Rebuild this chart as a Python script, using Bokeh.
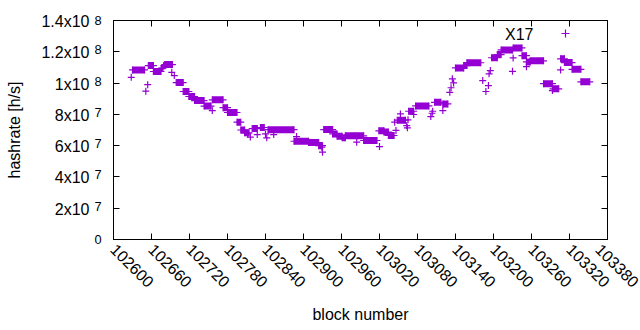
import math
from bokeh.plotting import figure
from bokeh.models import (Range1d, LinearAxis, FixedTicker, Label, Legend,
                          LegendItem, ColumnDataSource, BasicTickFormatter)
from bokeh.embed import file_html
from bokeh.resources import INLINE

# ---------------- data ----------------
# runs of consecutive blocks that share one hashrate estimate
run_start = [102630, 102655, 102663, 102676, 102679, 102681, 102699, 102710,
             102719, 102728, 102743, 102756, 102773, 102780, 102795, 102801,
             102807, 102819, 102832, 102844, 102885, 102908, 102924, 102932,
             102946, 102953, 102961, 102966, 102984, 102995, 103019, 103027,
             103034, 103048, 103066, 103077, 103107, 103120, 103140, 103153,
             103158, 103197, 103206, 103212, 103231, 103245, 103252, 103258,
             103279, 103294, 103306, 103312, 103324, 103338]
run_end = [102649, 102663, 102675, 102678, 102681, 102693, 102710, 102719,
           102728, 102743, 102754, 102773, 102780, 102795, 102801, 102807,
           102814, 102827, 102838, 102885, 102908, 102924, 102930, 102946,
           102953, 102961, 102966, 102982, 102995, 103016, 103027, 103034,
           103043, 103061, 103074, 103098, 103117, 103128, 103153, 103158,
           103180, 103206, 103212, 103230, 103245, 103252, 103258, 103279,
           103293, 103303, 103312, 103324, 103338, 103352]
run_value = [108.4e6, 111.2e6, 107.4e6, 109.5e6, 111.0e6, 111.8e6, 100.3e6, 94.6e6,
             91.4e6, 88.8e6, 85.3e6, 89.3e6, 84.3e6, 81.2e6, 75.0e6, 70.0e6,
             68.2e6, 70.9e6, 71.6e6, 70.2e6, 62.8e6, 62.0e6, 60.0e6, 70.3e6,
             67.5e6, 66.0e6, 65.0e6, 66.3e6, 66.3e6, 63.3e6, 69.5e6, 68.7e6,
             66.5e6, 76.3e6, 82.0e6, 85.4e6, 87.7e6, 86.7e6, 109.7e6, 111.2e6,
             113.0e6, 116.2e6, 118.2e6, 121.2e6, 122.5e6, 117.5e6, 113.5e6, 114.2e6,
             99.6e6, 96.3e6, 115.5e6, 113.1e6, 108.8e6, 100.8e6]

# single blocks that stand apart from the runs
out_block = [102628, 102651, 102654, 102692, 102696, 102756, 102812, 102816,
             102827, 102840, 102842, 102853, 102889, 102930, 102929, 102984,
             103020, 103046, 103044, 103053, 103063, 103064, 103065, 103074,
             103101, 103103, 103104, 103120, 103131, 103133, 103135, 103137,
             103183, 103188, 103192, 103193, 103195, 103230, 103231, 103252,
             103293, 103306]
out_value = [103.7e6, 94.8e6, 99.0e6, 106.9e6, 104.8e6, 82.4e6, 67.5e6, 65.5e6,
             67.1e6, 67.5e6, 65.0e6, 67.1e6, 65.8e6, 55.8e6, 59.0e6, 62.2e6,
             59.4e6, 69.7e6, 75.0e6, 80.3e6, 72.8e6, 71.4e6, 76.5e6, 79.9e6,
             78.6e6, 80.7e6, 82.0e6, 82.4e6, 94.1e6, 97.0e6, 102.7e6, 100.1e6,
             101.6e6, 94.6e6, 98.4e6, 105.9e6, 108.0e6, 107.5e6, 116.1e6, 110.5e6,
             95.2e6, 108.4e6]

x_ticks = [102600, 102660, 102720, 102780, 102840, 102900, 102960, 103020,
           103080, 103140, 103200, 103260, 103320, 103380]
y_ticks = [0, 20000000, 40000000, 60000000, 80000000, 100000000, 120000000, 140000000]
y_tick_mantissa = ["", "2x10", "4x10", "6x10", "8x10", "1x10", "1.2x10", "1.4x10"]
y_tick_exponent = ["0", "7", "7", "7", "7", "8", "8", "8"]
series_name = "X17"

# ---------------- style ----------------
PURPLE = "#9400D3"
FONT = "Liberation Sans"
FS = "16px"
EXP_RAISE = 1300000      # lift of the superscript labels (~2 px)
MANT_DROP = 600000       # small drop of the mantissa labels (~1 px)

p = figure(width=640, height=330, output_backend="svg", toolbar_location=None,
           x_range=Range1d(x_ticks[0], x_ticks[-1]),
           y_range=Range1d(y_ticks[0], y_ticks[-1]),
           min_border_left=113, min_border_right=33,
           min_border_top=20, min_border_bottom=91)
p.grid.visible = False
p.background_fill_color = "white"
p.border_fill_color = "white"
p.outline_line_color = "black"
p.outline_line_alpha = 1
p.outline_line_width = 1

# runs: filled band + end markers
run_src = ColumnDataSource(dict(
    xc=[(s + e) / 2 for s, e in zip(run_start, run_end)],
    w=[e - s for s, e in zip(run_start, run_end)],
    y=run_value))
p.rect(x="xc", y="y", width="w", height=7, height_units="screen",
       source=run_src, fill_color=PURPLE, line_color=None)
p.scatter(x=run_start + run_end, y=run_value + run_value, marker="cross",
          size=7, line_color=PURPLE, line_width=1.2)
out_r = p.scatter(x=out_block, y=out_value, marker="cross", size=7,
                  line_color=PURPLE, line_width=1.2)

def style_axis(ax, ticks):
    ax.ticker = FixedTicker(ticks=ticks)
    ax.major_tick_in = 6
    ax.major_tick_out = 0
    ax.minor_tick_line_color = None
    ax.axis_line_color = "black"
    ax.major_tick_line_color = "black"
    ax.major_label_text_font = FONT
    ax.major_label_text_font_size = FS
    ax.major_label_text_color = "black"
    ax.axis_label_text_font = FONT
    ax.axis_label_text_font_size = FS
    ax.axis_label_text_font_style = "normal"
    ax.axis_label_text_color = "black"

def label_only(ax):
    ax.axis_line_color = None
    ax.major_tick_line_color = None
    ax.major_tick_in = 0

xa = p.xaxis[0]
style_axis(xa, x_ticks)
xa.formatter = BasicTickFormatter(use_scientific=False)
xa.major_label_orientation = -math.pi / 4
xa.major_label_standoff = 7
xa.axis_label = "block number"
xa.axis_label_standoff = 10

# innermost left axis: line and ticks only
ya = p.yaxis[0]
style_axis(ya, y_ticks)
ya.major_label_overrides = {t: "" for t in y_ticks}
ya.major_label_standoff = 0

# exponents (and the plain "0"), lifted a little but kept inside the range
exp_ticks = [min(t + EXP_RAISE, y_ticks[-1]) if e != "0" else t
             for t, e in zip(y_ticks, y_tick_exponent)]
ye = LinearAxis()
style_axis(ye, exp_ticks)
label_only(ye)
ye.major_label_overrides = {t: e for t, e in zip(exp_ticks, y_tick_exponent)}
ye.major_label_text_font_size = "12.8px"
ye.major_label_standoff = 12
p.add_layout(ye, "left")

# mantissas "Nx10" and the title
mant_ticks = [t - MANT_DROP for t in y_ticks[1:]]
ym = LinearAxis()
style_axis(ym, mant_ticks)
label_only(ym)
ym.major_label_overrides = {t: m for t, m in zip(mant_ticks, y_tick_mantissa[1:])}
ym.major_label_standoff = 2
ym.axis_label = "hashrate [h/s]"
ym.axis_label_standoff = 15
p.add_layout(ym, "left")

top = LinearAxis()
style_axis(top, x_ticks)
top.major_label_overrides = {t: "" for t in x_ticks}
top.major_label_standoff = 0
p.add_layout(top, "above")
right = LinearAxis()
style_axis(right, y_ticks)
right.major_label_overrides = {t: "" for t in y_ticks}
right.major_label_standoff = 0
p.add_layout(right, "right")

# key: text, then sample
p.add_layout(Label(x=x_ticks[-1], y=y_ticks[-1], x_offset=-74, y_offset=-14,
                   text=series_name, text_align="right", text_baseline="middle",
                   text_font=FONT, text_font_size=FS, text_color="black"))
leg = Legend(items=[LegendItem(label="", renderers=[out_r])],
             location=(442, 196), padding=0, margin=0, spacing=0,
             glyph_width=20, glyph_height=20, label_standoff=0,
             border_line_color=None, background_fill_alpha=0,
             label_text_font_size=FS)
p.add_layout(leg)

open("out.html", "w").write(file_html(p, INLINE))
